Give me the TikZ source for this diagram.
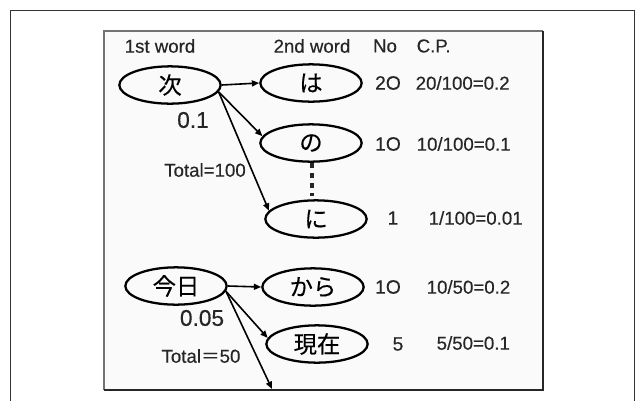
\documentclass[tikz,border=0pt]{standalone}
\usepackage{fontspec}
\setmainfont{Liberation Sans}[FakeBold=0.35]
\newfontfamily\jp{Noto Sans CJK JP}[FakeBold=0.3]
\usetikzlibrary{shapes.geometric,arrows.meta}

\begin{document}
\begin{tikzpicture}[x=0.75pt,y=-0.75pt,
  word/.style={ellipse,draw=black,line width=1.7pt,inner sep=0pt,
    minimum width=76pt,minimum height=28pt,font=\jp\fontsize{17.5}{18}\selectfont},
  head/.style={font=\fontsize{14}{15}\selectfont,text=black!85},
  num/.style={font=\fontsize{14.5}{15}\selectfont,text=black!85},
  prob/.style={font=\fontsize{17}{18}\selectfont,text=black!85},
  link/.style={line width=1.2pt,-{Triangle[length=5.5pt,width=4.5pt]}}]
\useasboundingbox (0,0) rectangle (637,401);
\fill[white] (0,0) rectangle (637,401);

% outer page frame
\draw[line width=1pt,black!80] (10.5,401) -- (10.5,10.5) -- (634.5,10.5) -- (634.5,401);

% inner panel
\fill[black!2] (104,31) rectangle (543,390);
\draw[line width=1.2pt,black!55] (104,390) -- (104,31) -- (543,31);
\draw[line width=2.2pt,black!85] (104,390) -- (543,390) -- (543,31);

% column headings
\node[head] (h1) at (160,46) {1st word};
\node[head] (h2) at (312,46) {2nd word};
\node[head] (h3) at (385,46) {No};
\node[head,anchor=west] (h4) at (412,46) {C.P.};

% first group
\node[word] (ci) at (170,85) {次};
\node[word] (ha) at (311,83) {は};
\node[word] (no) at (311,143) {の};
\node[word] (ni) at (316,219) {に};

\draw[link] (ci.east) -- (ha.west);
\draw[link] (ci.-8) -- (no.172);
\draw[link] (ci.-8) -- (ni.170);

\node[prob] (p1) at (193,120) {0.1};
\node[head] (t1) at (205,170) {Total=100};

\node[num] (n1) at (388,83) {2O};
\node[head,anchor=west] (c1) at (411,83) {20/100=0.2};
\node[num] (n2) at (388,144) {1O};
\node[head,anchor=west] (c2) at (412,144) {10/100=0.1};
\node[num] (n3) at (393,218) {1};
\node[head,anchor=west] (c3) at (424,218) {1/100=0.01};

% ellipsis between the second-word rows
\coordinate (d1) at (312,163);
\coordinate (d2) at (312,196);
\draw[line width=3.2pt,dash pattern=on 3.5pt off 4pt,black!85] (d1) -- (d2);

% second group
\node[word] (kyo) at (176,286) {今日};
\node[word] (kara) at (313,287) {から};
\node[word] (gen) at (317,344) {現在};
\coordinate (more) at (272,389);

\draw[link] (kyo.east) -- (kara.west);
\draw[link] (kyo.-6) -- (gen.173);
\draw[link] (kyo.-6) -- (more);

\node[prob] (p2) at (202,318) {0.05};
\node[head] (t2) at (201,356) {Total{\jp＝}50};

\node[num] (n4) at (388,287) {1O};
\node[head,anchor=west] (c4) at (422,287) {10/50=0.2};
\node[num] (n5) at (398,344) {5};
\node[head,anchor=west] (c5) at (432,343) {5/50=0.1};
\end{tikzpicture}
\end{document}
